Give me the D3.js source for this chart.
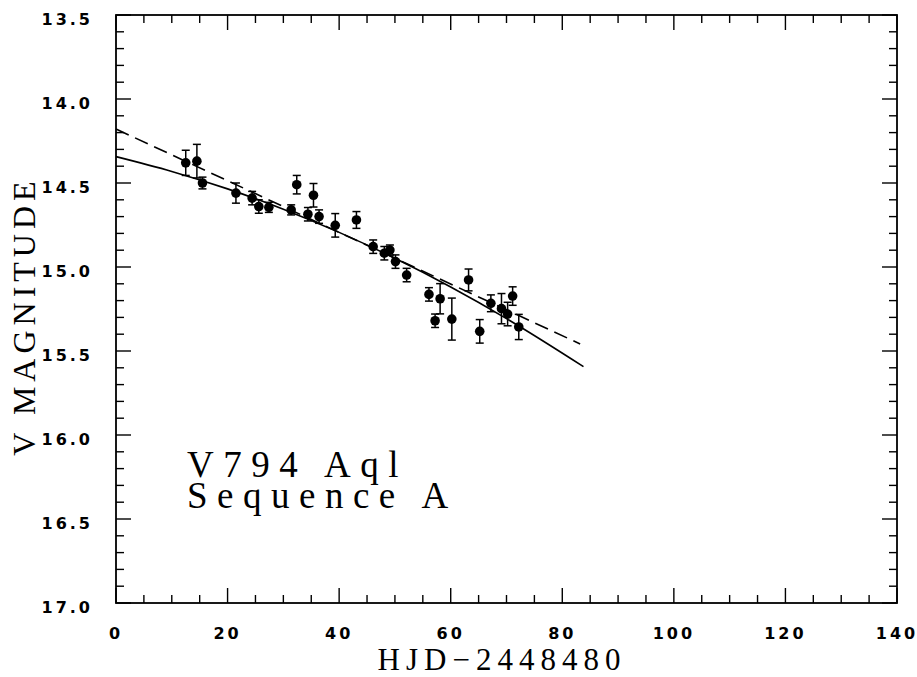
<!DOCTYPE html>
<html>
<head>
<meta charset="utf-8">
<script src="https://cdn.jsdelivr.net/npm/d3@7"></script>
<style>
  html, body { margin: 0; padding: 0; background: #fff; }
  svg { display: block; }
</style>
</head>
<body>
<div id="chart"></div>
<script>
// observations: HJD - 2448480, V magnitude, 1-sigma error
const hjd = [12.5, 14.5, 15.5, 21.5, 24.4, 25.6, 27.4, 31.4, 32.4, 34.4, 35.4, 36.4, 39.3, 43.1,
    46.1, 48.1, 49.1, 50.1, 52.1, 56.1, 57.2, 58.1, 60.2, 63.2, 65.2, 67.2, 69.1, 70.2, 71.1, 72.2];
const vmag = [14.38, 14.37, 14.50, 14.56, 14.59, 14.64, 14.645, 14.66, 14.51, 14.686, 14.573, 14.70, 14.752, 14.72,
    14.879, 14.918, 14.899, 14.968, 15.048, 15.163, 15.32, 15.189, 15.31, 15.077, 15.383, 15.216, 15.248, 15.28, 15.173, 15.357];
const verr = [0.075, 0.10, 0.035, 0.06, 0.04, 0.04, 0.03, 0.03, 0.055, 0.04, 0.07, 0.04, 0.07, 0.05,
    0.04, 0.04, 0.03, 0.04, 0.04, 0.04, 0.04, 0.09, 0.125, 0.065, 0.07, 0.05, 0.09, 0.07, 0.055, 0.075];

// solid fit (slightly curved)
const solidDays = [0, 10, 20, 30, 40, 50, 60, 70, 83.8];
const solidMag = [14.343, 14.431, 14.535, 14.656, 14.794, 14.948, 15.119, 15.307, 15.593];
// dashed fit (straight), endpoints
const dashedDays = [0, 83.2];
const dashedMag = [14.179, 15.458];

const xTicks = [0, 20, 40, 60, 80, 100, 120, 140];
const yTicks = [13.5, 14.0, 14.5, 15.0, 15.5, 16.0, 16.5, 17.0];
const labelLines = ['V794 Aql', 'Sequence A'];

const W = 917, H = 677;
const margin = { top: 15, right: 20, bottom: 74, left: 116 };
const innerW = W - margin.left - margin.right;
const innerH = H - margin.top - margin.bottom;

const svg = d3.select('#chart').append('svg')
    .attr('width', W)
    .attr('height', H);

const g = svg.append('g')
    .attr('transform', `translate(${margin.left},${margin.top})`);

const x = d3.scaleLinear().domain([0, 140]).range([0, innerW]);
const y = d3.scaleLinear().domain([13.5, 17.0]).range([0, innerH]);

const tickFont = '"DejaVu Sans", sans-serif';
const serifFont = '"Liberation Serif", "DejaVu Serif", serif';

// minor ticks every 5 in x, every 0.1 in y; inward on all sides
const xMinor = d3.range(0, 140.01, 5);
const yMinor = d3.range(0, 36).map(i => 13.5 + i * 0.1);
const isMajorX = v => Math.abs(v % 20) < 1e-6;
const isMajorY = v => Math.abs((v * 2) - Math.round(v * 2)) < 1e-6;

const ticks = g.append('g').attr('stroke', '#000').attr('stroke-width', 1.4);
xMinor.forEach(v => {
    const len = isMajorX(v) ? 15 : 8;
    ticks.append('line').attr('x1', x(v)).attr('x2', x(v)).attr('y1', innerH).attr('y2', innerH - len);
    ticks.append('line').attr('x1', x(v)).attr('x2', x(v)).attr('y1', 0).attr('y2', len);
});
yMinor.forEach(v => {
    const len = isMajorY(v) ? 15 : 8;
    ticks.append('line').attr('x1', 0).attr('x2', len).attr('y1', y(v)).attr('y2', y(v));
    ticks.append('line').attr('x1', innerW).attr('x2', innerW - len).attr('y1', y(v)).attr('y2', y(v));
});

// frame
g.append('rect')
    .attr('width', innerW)
    .attr('height', innerH)
    .attr('fill', 'none')
    .attr('stroke', '#000')
    .attr('stroke-width', 1.8);

// tick labels
g.append('g').selectAll('text')
    .data(xTicks)
    .join('text')
    .attr('x', d => x(d))
    .attr('y', innerH + 36)
    .attr('text-anchor', 'middle')
    .style('font-family', tickFont)
    .style('font-size', '16px')
    .style('font-weight', 'bold')
    .style('letter-spacing', '3px')
    .text(d => d3.format('d')(d));

g.append('g').selectAll('text')
    .data(yTicks)
    .join('text')
    .attr('x', -23)
    .attr('y', d => y(d) + 9.5)
    .attr('text-anchor', 'end')
    .style('font-family', tickFont)
    .style('font-size', '16px')
    .style('font-weight', 'bold')
    .style('letter-spacing', '3px')
    .text(d => d3.format('.1f')(d));

// axis titles
svg.append('text')
    .attr('x', 502)
    .attr('y', 670)
    .attr('text-anchor', 'middle')
    .style('font-family', serifFont)
    .style('font-size', '31px')
    .style('letter-spacing', '6px')
    .text('HJD\u22122448480');

svg.append('text')
    .attr('transform', 'translate(35,316) rotate(-90)')
    .attr('text-anchor', 'middle')
    .style('font-family', serifFont)
    .style('font-size', '32px')
    .style('letter-spacing', '5px')
    .text('V MAGNITUDE');

// fitted lines
const solidFit = solidDays.map((d, i) => ({ x: d, y: solidMag[i] }));
const dashedFit = dashedDays.map((d, i) => ({ x: d, y: dashedMag[i] }));
const line = d3.line().x(d => x(d.x)).y(d => y(d.y)).curve(d3.curveMonotoneX);

g.append('path')
    .datum(solidFit)
    .attr('d', line)
    .attr('fill', 'none')
    .attr('stroke', '#000')
    .attr('stroke-width', 1.6);

g.append('path')
    .datum(dashedFit)
    .attr('d', line)
    .attr('fill', 'none')
    .attr('stroke', '#000')
    .attr('stroke-width', 1.6)
    .attr('stroke-dasharray', '14,7');

// error bars
const pts = hjd.map((h, i) => ({ x: h, y: vmag[i], e: verr[i] }));
const bars = g.append('g').attr('stroke', '#000').attr('stroke-width', 1.5);
pts.forEach(d => {
    bars.append('line').attr('x1', x(d.x)).attr('x2', x(d.x)).attr('y1', y(d.y - d.e)).attr('y2', y(d.y + d.e));
    bars.append('line').attr('x1', x(d.x) - 4).attr('x2', x(d.x) + 4).attr('y1', y(d.y - d.e)).attr('y2', y(d.y - d.e));
    bars.append('line').attr('x1', x(d.x) - 4).attr('x2', x(d.x) + 4).attr('y1', y(d.y + d.e)).attr('y2', y(d.y + d.e));
});

// points
g.append('g').selectAll('circle')
    .data(pts)
    .join('circle')
    .attr('cx', d => x(d.x))
    .attr('cy', d => y(d.y))
    .attr('r', 4.8)
    .attr('fill', '#000');

// star label (one text block, two lines)
g.append('text')
    .style('font-family', serifFont)
    .style('font-size', '37px')
    .style('letter-spacing', '9.5px')
    .selectAll('tspan')
    .data(labelLines)
    .join('tspan')
    .attr('x', 71)
    .attr('y', (d, i) => 462 + i * 31)
    .text(d => d);
</script>
</body>
</html>
